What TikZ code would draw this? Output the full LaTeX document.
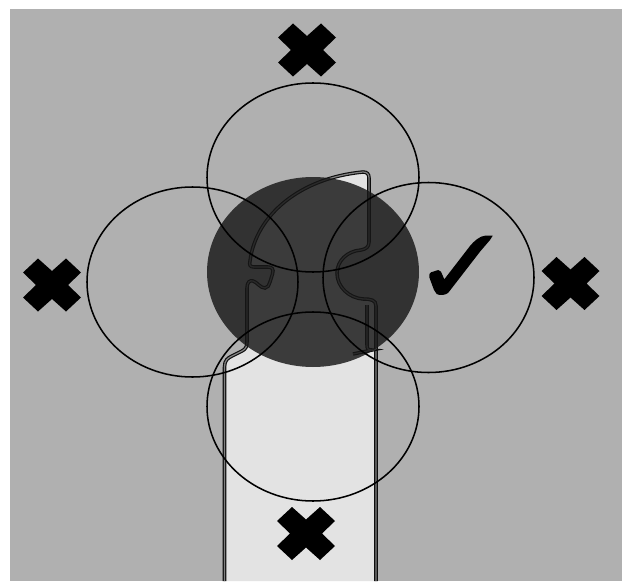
\documentclass[tikz,border=0pt]{standalone}
\usepackage{tikz}

\tikzset{
    keyline/.style={draw=black!95, line width=0.85pt, double=black!50, double distance=0.95pt},
    ringline/.style={draw=black, line width=1.15pt},
    crossmark/.style={fill=black, draw=none}
}

\begin{document}
\begin{tikzpicture}[x=0.0264cm, y=-0.0264cm]
    \useasboundingbox (0,0) rectangle (632,585);
    \fill[black!31] (10,9) rectangle (622,581);

    \path[fill=black!11, keyline] (224.5,581) -- (224.5,367) .. controls (224.5,360) and (228,358) .. (232,356)
        -- (242,351) .. controls (246,349) and (247,346) .. (247,342)
        -- (247,288) .. controls (247,282) and (250,280) .. (253,281)
        .. controls (257,282) and (260,288) .. (265,288) .. controls (268,288) and (269,285) .. (270,282)
        -- (272.5,274) .. controls (274,269) and (272,267) .. (268,267)
        -- (254,267) .. controls (250,267) and (249,265) .. (250,261)
        .. controls (256,215) and (300,178) .. (363,172) .. controls (367,172) and (369,174) .. (369,178)
        -- (369,242) .. controls (369,247) and (366,249) .. (361,250)
        .. controls (347,251) and (337,261) .. (337,273) .. controls (337,287) and (349,298) .. (363,299)
        .. controls (371,299) and (376,300) .. (376,306) -- (376,581);
    \draw[keyline] (367,305) -- (367,345) .. controls (367,349) and (368,350) .. (372,350) -- (353,354);

    \fill[black!91, opacity=0.82] (313,272) ellipse [x radius=106, y radius=95];

    \draw[ringline] (313,177.5) ellipse [x radius=106, y radius=94.5];
    \draw[ringline] (313,406.5) ellipse [x radius=106, y radius=94.5];
    \draw[ringline] (192.5,282) ellipse [x radius=105.5, y radius=95];
    \draw[ringline] (428.5,277.5) ellipse [x radius=105.5, y radius=95];

    \foreach \cx/\cy in {307/50, 52/285, 570.5/283.5, 306/533.5} {
        \fill[crossmark, shift={(\cx,\cy)}] (0,-14) -- (14,-26.5) -- (29,-12.5) -- (16,0) -- (29,12.5) -- (14,26.5)
            -- (0,14) -- (-14,26.5) -- (-29,12.5) -- (-16,0) -- (-29,-12.5) -- (-14,-26.5) -- cycle;
    }

    \fill[crossmark] (492.7,235.7) -- (490,240) -- (480,251.7) -- (448.3,292.7)
        .. controls (446,295) and (440,296) .. (436.7,294) -- (434,290) -- (429.3,277.3)
        .. controls (429,274) and (430,272.5) .. (431,272.3) -- (438.3,270) -- (441,271.7) -- (444.3,279.3)
        -- (470,246) .. controls (474,241) and (480,236) .. (485,235.7) -- cycle;
\end{tikzpicture}
\end{document}
